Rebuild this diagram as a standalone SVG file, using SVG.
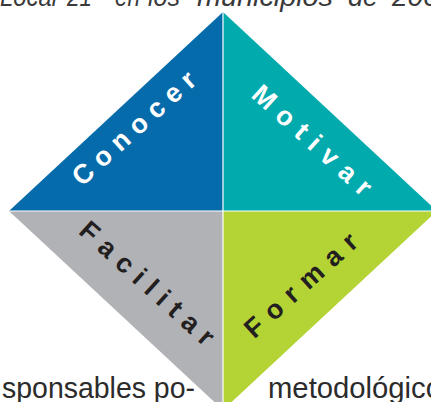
<svg xmlns="http://www.w3.org/2000/svg" width="431" height="402" viewBox="0 0 431 402">
  <style>
    .body { font-family: "Liberation Sans", Arial, sans-serif; font-size: 30px; fill: #2b2b2b; }
    .top { font-family: "Liberation Sans", Arial, sans-serif; font-size: 28px; font-style: italic; fill: #3a3a3a; }
    .lbl { font-family: "Liberation Sans", Arial, sans-serif; font-size: 27px; font-weight: bold; text-anchor: middle; }
    .light { fill: #ffffff; }
    .dark { fill: #231f20; }
    .sep { stroke: #ffffff; stroke-width: 1.2; fill: none; }
  </style>
  <rect width="431" height="402" fill="#ffffff"/>
  <g id="top-text">
    <text class="top" x="0" y="6" textLength="57" lengthAdjust="spacingAndGlyphs">Local</text>
    <text class="top" x="67" y="6" textLength="25" lengthAdjust="spacingAndGlyphs">21</text>
    <text class="top" x="115" y="6" textLength="25" lengthAdjust="spacingAndGlyphs">en</text>
    <text class="top" x="148" y="6" textLength="32" lengthAdjust="spacingAndGlyphs">los</text>
    <text class="top" x="197" y="6" textLength="136" lengthAdjust="spacingAndGlyphs">municipios</text>
    <text class="top" x="348" y="6" textLength="30" lengthAdjust="spacingAndGlyphs">de</text>
    <text class="top" x="392" y="6">200</text>
  </g>
  <g id="conocer">
    <polygon points="223,12 9,211 223,211" fill="#066bab"/>
    <text class="lbl light" transform="translate(140,135) rotate(-42)" textLength="156" lengthAdjust="spacing">Conocer</text>
  </g>
  <g id="motivar">
    <polygon points="223,12 437,211 223,211" fill="#00aaad"/>
    <text class="lbl light" transform="translate(306,147) rotate(42)" textLength="151" lengthAdjust="spacing">Motivar</text>
  </g>
  <g id="facilitar">
    <polygon points="9,211 223,211 223,410" fill="#b1b2b6"/>
    <text class="lbl dark" transform="translate(141,290) rotate(42)" textLength="171" lengthAdjust="spacing">Facilitar</text>
  </g>
  <g id="formar">
    <polygon points="223,211 437,211 223,410" fill="#b4d334"/>
    <text class="lbl dark" transform="translate(307,292) rotate(-42)" textLength="142" lengthAdjust="spacing">Formar</text>
  </g>
  <g id="connectors">
    <line class="sep" x1="223" y1="12" x2="223" y2="410"/>
    <line class="sep" x1="9" y1="211" x2="437" y2="211"/>
  </g>
  <text class="body" x="2" y="398" textLength="193" lengthAdjust="spacingAndGlyphs">sponsables po-</text>
  <text class="body" x="268" y="398" textLength="174" lengthAdjust="spacingAndGlyphs">metodológico</text>
</svg>
